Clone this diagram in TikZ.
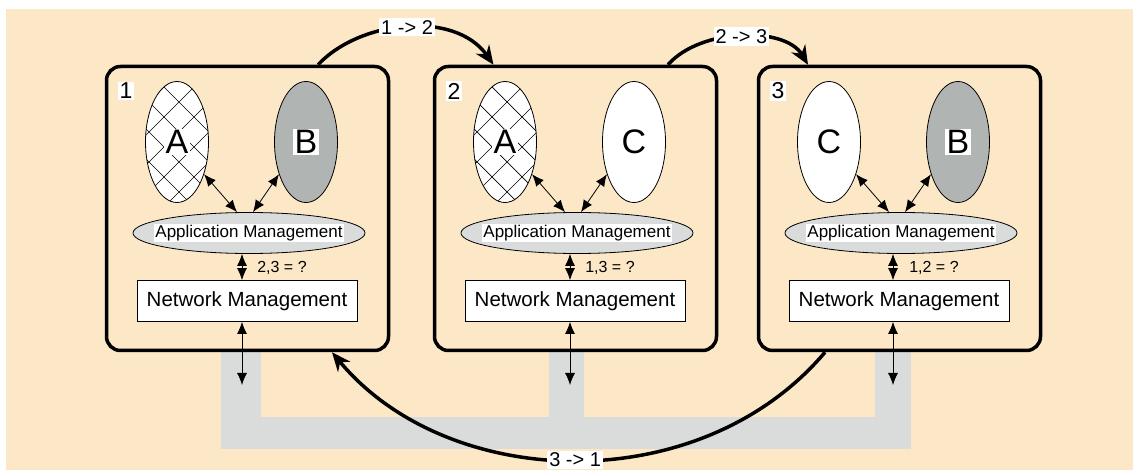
\documentclass[tikz,border=0pt]{standalone}
\usepackage{fontspec}
\setmainfont{Liberation Sans}
\usetikzlibrary{shapes.geometric,arrows.meta}
\definecolor{paper}{HTML}{FCE8C6}
\definecolor{busgrey}{HTML}{D9DCDB}
\definecolor{bgrey}{HTML}{B0B5B3}

\begin{document}
\begin{tikzpicture}[x=1pt, y=-1pt,
    nodebox/.style={rectangle, draw, line width=3.5pt, rounded corners=14pt, minimum width=282pt, minimum height=284pt},
    appell/.style={ellipse, draw, line width=0.8pt, minimum width=63pt, minimum height=121pt, inner sep=0pt},
    hatched/.style={appell, fill=white, path picture={
        \foreach \i in {-178,-148,...,180} {
          \draw[line width=0.7pt] ([shift={(\i,-70)}]path picture bounding box.center) -- ++(140,140);
          \draw[line width=0.7pt] ([shift={(\i,-70)}]path picture bounding box.center) -- ++(-140,140);
        }}},
    mgmtell/.style={ellipse, draw, line width=0.8pt, fill=busgrey, minimum width=232pt, minimum height=41pt, inner sep=0pt},
    netbox/.style={rectangle, draw, line width=0.8pt, fill=white, minimum width=220pt, minimum height=41pt, font=\fontsize{20.5}{24}\selectfont},
    letter/.style={fill=white, inner sep=1.5pt, font=\fontsize{34}{38}\selectfont},
    numlbl/.style={fill=white, inner sep=1.5pt, font=\fontsize{23}{26}\selectfont},
    applbl/.style={fill=white, inner sep=1pt, font=\fontsize{17}{20}\selectfont},
    eqlbl/.style={font=\fontsize{16}{19}\selectfont},
    movelbl/.style={fill=white, inner sep=2pt, font=\fontsize{20}{24}\selectfont},
    dblarrow/.style={{Latex[length=12pt,width=10pt]}-{Latex[length=12pt,width=10pt]}, line width=0.8pt},
    bigarrow/.style={-{Stealth[length=19pt,width=16pt]}, line width=3.5pt}
  ]
  \fill[white] (0,0) rectangle (1133,470);
  \fill[paper] (6,9) rectangle (1133,470);
  \useasboundingbox (0,0) rectangle (1133,470);

  % bus
  \fill[busgrey] (221,352) rectangle (261,449);
  \fill[busgrey] (221,417) rectangle (911,449);
  \fill[busgrey] (549,352) rectangle (584,417);
  \fill[busgrey] (875,352) rectangle (911,449);
  \coordinate (bus1) at (242,385);
  \coordinate (bus2) at (570,385);
  \coordinate (bus3) at (893,385);

  % node 1
  \node[nodebox] (box1) at (247.5,208.5) {};
  \node[numlbl] (num1) at (126,91) {1};
  \node[hatched] (left1) at (177,142) {};
  \node[letter] at (left1) {A};
  \node[appell, fill=bgrey] (right1) at (306,142) {};
  \node[letter] at (right1) {B};
  \node[mgmtell] (app1) at (249,233) {};
  \node[applbl] at (app1) {Application Management};
  \node[netbox] (net1) at (247,301) {Network Management};
  \node[eqlbl] (eq1) at (282,268) {2,3 = ?};

  % node 2
  \node[nodebox] (box2) at (575.5,208.5) {};
  \node[numlbl] (num2) at (454,91) {2};
  \node[hatched] (left2) at (505,142) {};
  \node[letter] at (left2) {A};
  \node[appell, fill=white] (right2) at (634,142) {};
  \node[letter] at (right2) {C};
  \node[mgmtell] (app2) at (577,233) {};
  \node[applbl] at (app2) {Application Management};
  \node[netbox] (net2) at (575,301) {Network Management};
  \node[eqlbl] (eq2) at (610,268) {1,3 = ?};

  % node 3
  \node[nodebox] (box3) at (899.5,208.5) {};
  \node[numlbl] (num3) at (778,91) {3};
  \node[appell, fill=white] (left3) at (829,142) {};
  \node[letter] at (left3) {C};
  \node[appell, fill=bgrey] (right3) at (958,142) {};
  \node[letter] at (right3) {B};
  \node[mgmtell] (app3) at (901,233) {};
  \node[applbl] at (app3) {Application Management};
  \node[netbox] (net3) at (899,301) {Network Management};
  \node[eqlbl] (eq3) at (934,268) {1,2 = ?};

  \draw[dblarrow] (left1.-50) -- ([xshift=-12pt]app1.north);
  \draw[dblarrow] (right1.-130) -- ([xshift=4pt]app1.north);
  \draw[dblarrow] (app1.south -| bus1) -- (net1.north -| bus1);
  \draw[dblarrow] (net1.south -| bus1) -- (bus1);

  \draw[dblarrow] (left2.-50) -- ([xshift=-12pt]app2.north);
  \draw[dblarrow] (right2.-130) -- ([xshift=4pt]app2.north);
  \draw[dblarrow] (app2.south -| bus2) -- (net2.north -| bus2);
  \draw[dblarrow] (net2.south -| bus2) -- (bus2);

  \draw[dblarrow] (left3.-50) -- ([xshift=-12pt]app3.north);
  \draw[dblarrow] (right3.-130) -- ([xshift=4pt]app3.north);
  \draw[dblarrow] (app3.south -| bus3) -- (net3.north -| bus3);
  \draw[dblarrow] (net3.south -| bus3) -- (bus3);

  % moves between nodes
  \draw[bigarrow] ([xshift=70.5pt]box1.north) .. controls (360,20) and (455,10) .. ([xshift=-82pt]box2.north) node[pos=0.5, movelbl] {1 -> 2};
  \draw[bigarrow] ([xshift=92.5pt]box2.north) .. controls (700,28) and (785,26) .. ([xshift=-91.5pt]box3.north) node[pos=0.5, movelbl] {2 -> 3};
  \draw[bigarrow] ([xshift=-74.5pt]box3.south) .. controls (700,500) and (448,492) .. ([xshift=84.5pt]box1.south) node[pos=0.5, movelbl] {3 -> 1};
\end{tikzpicture}
\end{document}
